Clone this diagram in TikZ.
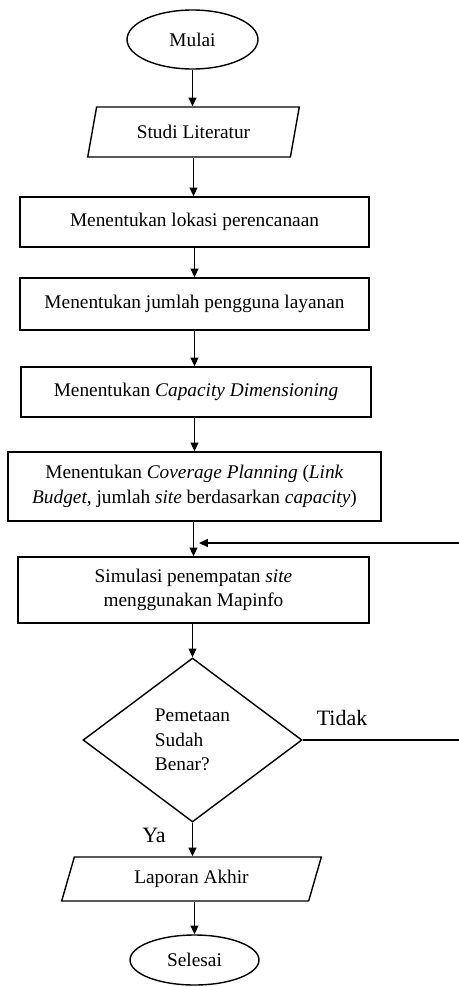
\documentclass[tikz,border=0pt]{standalone}
\usepackage{fontspec}
\setmainfont{Liberation Serif}
\usepackage{tikz}
\usetikzlibrary{shapes.geometric}
\usetikzlibrary{arrows.meta,positioning}
\tikzset{base node/.style={draw=black, line width=0.8pt, inner sep=2pt,
    font=\fontsize{11}{14}\selectfont, align=center}}
\tikzset{terminal node/.style={base node, ellipse}}
\tikzset{io node/.style={base node, trapezium, trapezium left angle=75,
    trapezium right angle=105, trapezium stretches=true}}
\tikzset{process node/.style={base node, rectangle}}
\tikzset{decision node/.style={base node, diamond, align=left, inner sep=0pt}}
\tikzset{flow edge/.style={draw=black, line width=0.8pt, -{Triangle[length=5pt,width=4.5pt]}}}
\tikzset{branch label/.style={font=\fontsize{12.5}{14}\selectfont}}

\begin{document}
\begin{tikzpicture}
          [x=0.02cm, y=-0.02cm]
          \useasboundingbox (0, 0) rectangle (459, 987);
          \node [terminal node, minimum width=2.62cm, minimum height=1.18cm] (mulai)   at (192.5,  39.5) {Mulai};
          \node [io node, minimum width=4.26cm, minimum height=1.0cm]        (studi)   at (193.5, 132) {Studi Literatur};
          \node [process node, minimum width=6.98cm, minimum height=1.0cm]   (lokasi)  at (194.5, 222) {Menentukan lokasi perencanaan};
          \node [process node, minimum width=6.98cm, minimum height=1.04cm]  (jumlah)  at (194.5, 304) {Menentukan jumlah pengguna layanan};
          \node [process node, minimum width=7.0cm, minimum height=1.0cm]    (kapasitas) at (196, 392) {Menentukan \textit{Capacity Dimensioning}};
          \node [process node, minimum width=7.46cm, minimum height=1.38cm]  (coverage) at (194.5, 486.5) {Menentukan \textit{Coverage Planning} (\textit{Link}\\\textit{Budget}, jumlah \textit{site} berdasarkan \textit{capacity})};
          \node [process node, minimum width=7.02cm, minimum height=1.32cm]  (simulasi) at (193.5, 590) {Simulasi penempatan \textit{site}\\menggunakan Mapinfo};
          \node [decision node, minimum width=4.38cm, minimum height=3.28cm] (cek)     at (192.5, 740) {Pemetaan\\Sudah\\Benar?};
          \node [io node, minimum width=5.22cm, minimum height=0.88cm]       (laporan) at (191.5, 879) {Laporan Akhir};
          \node [terminal node, minimum width=2.58cm, minimum height=1.0cm]  (selesai) at (194.5, 960) {Selesai};

          \node [branch label] (tidak) at (342, 718) {Tidak};
          \node [branch label] (ya)    at (154, 835) {Ya};

          % loop back runs along the page edge
          \coordinate (loop top) at (462, 543);
          \coordinate (loop end) at (199, 543);

          \draw [flow edge] (mulai.south)     -- (mulai.south |- studi.north);
          \draw [flow edge] (studi.south)     -- (studi.south |- lokasi.north);
          \draw [flow edge] (lokasi.south)    -- (lokasi.south |- jumlah.north);
          \draw [flow edge] (jumlah.south)    -- (jumlah.south |- kapasitas.north);
          \draw [flow edge] (kapasitas.south -| jumlah.south) -- (jumlah.south |- coverage.north);
          \draw [flow edge] (coverage.south -| simulasi.north) -- (simulasi.north);
          \draw [flow edge] (simulasi.south -| cek.north) -- (cek.north);
          \draw [flow edge] (cek.south)       -- (cek.south |- laporan.north);
          \draw [flow edge] (laporan.south -| selesai.north) -- (selesai.north);
          \draw [flow edge] (cek.east) -| (loop top) -- (loop end);
        \end{tikzpicture}
\end{document}
